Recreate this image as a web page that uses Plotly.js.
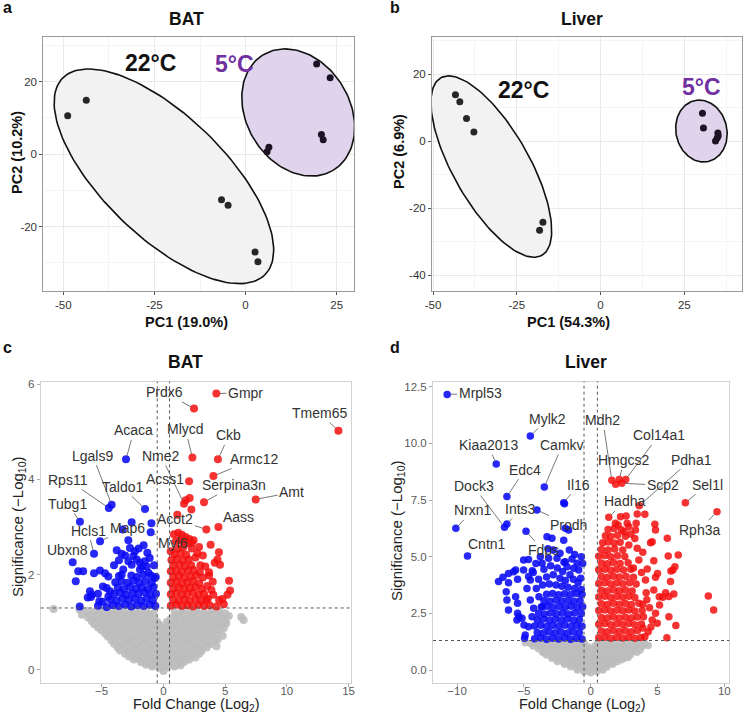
<!DOCTYPE html>
<html><head><meta charset="utf-8">
<script src="https://cdn.plot.ly/plotly-3.0.1.min.js"></script>
<style>html,body{margin:0;padding:0;background:#fff;}#chart{width:744px;height:714px;}</style>
</head><body><div id="chart"></div>
<script>
// ---------- PCA data ----------
const batPC1_22 = [-48.8,-43.7,-6.6,-4.8,2.6,3.4];
const batPC2_22 = [10.6,14.9,-12.6,-14.1,-27.0,-29.7];
const batPC1_5  = [19.5,23.2,20.8,21.3,6.4,5.9];
const batPC2_5  = [24.9,21.1,5.4,4.0,1.9,0.7];
const livPC1_22 = [-43.3,-42.0,-40.0,-37.8,-17.2,-18.2];
const livPC2_22 = [13.8,11.7,6.7,2.7,-24.2,-26.6];
const livPC1_5  = [30.4,30.7,35.0,35.1,34.8,34.3];
const livPC2_5  = [8.3,3.9,2.4,1.6,0.9,0.0];
// confidence ellipses: [centre x, centre y, semi-major, semi-minor, angle deg]
const batEll22 = [-22.4,-6.1,38.8,16.7,-44.3];
const batEll5  = [14.45,11.5,18.6,14.2,-59.1];
const livEll22 = [-32.6,-7.6,30.45,11.33,-60.3];
const livEll5  = [30.1,3.0,9.3,7.6,-77.5];
const groupNames = ['22°C','5°C'];

// ---------- Volcano data [log2 FC, -log10 p] ----------
const batNS = [
[-8.9,1.28],[-6.8,1.27],[-6.6,1.16],[-6.2,1.24],[-5.6,1.22],[-5.0,1.25],[-4.4,1.2],[-3.8,1.24],[-3.2,1.21],[-2.6,1.25],[-2.0,1.2],[-1.4,1.23],[-0.8,1.19],[0.9,1.2],[1.5,1.24],[2.1,1.21],[2.7,1.25],[3.3,1.2],[3.9,1.24],[4.5,1.22],[5.0,1.19],
[-5.9,1.16],[-5.3,1.17],[-4.7,1.15],[-4.1,1.17],[-3.5,1.16],[-2.9,1.15],[-2.3,1.17],[-1.7,1.15],[-1.1,1.16],[1.0,1.15],[1.6,1.17],[2.2,1.15],[2.8,1.17],[3.4,1.15],[4.0,1.17],[4.6,1.15],
[-6.1,1.1],[-5.5,1.07],[-4.9,1.12],[-4.3,1.06],[-3.7,1.1],[-3.1,1.07],[-2.5,1.11],[-1.9,1.06],[-1.3,1.1],[-0.7,1.05],[0.6,1.07],[1.2,1.1],[1.8,1.06],[2.4,1.11],[3.0,1.07],[3.6,1.1],[4.2,1.06],[4.8,1.1],[5.3,1.13],[6.3,1.11],[6.5,1.05],
[-5.8,1.02],[-5.2,1.03],[-4.6,1.01],[-4.0,1.03],[-3.4,1.02],[-2.8,1.01],[-2.2,1.03],[-1.6,1.01],[-1.0,1.02],[-0.5,1.0],[0.3,1.01],[0.9,1.02],[1.5,1.01],[2.1,1.03],[2.7,1.01],[3.3,1.03],[3.9,1.01],[4.5,1.02],[5.0,1.04],
[-5.6,0.96],[-5.0,0.98],[-4.4,0.94],[-3.8,0.97],[-3.2,0.93],[-2.6,0.98],[-2.0,0.95],[-1.4,0.97],[-0.8,0.93],[-0.3,0.95],[0.4,0.94],[1.0,0.97],[1.6,0.93],[2.2,0.97],[2.8,0.94],[3.4,0.98],[4.0,0.95],[4.6,0.93],[5.1,0.98],
[-5.3,0.89],[-4.7,0.88],[-4.1,0.9],[-3.5,0.88],[-2.9,0.9],[-2.3,0.88],[-1.7,0.9],[-1.1,0.88],[-0.5,0.89],[0.1,0.88],[0.7,0.9],[1.3,0.88],[1.9,0.9],[2.5,0.88],[3.1,0.9],[3.7,0.88],[4.3,0.9],[4.9,0.88],
[-5.0,0.83],[-4.4,0.8],[-3.8,0.84],[-3.2,0.81],[-2.6,0.85],[-2.0,0.8],[-1.4,0.83],[-0.8,0.8],[-0.2,0.84],[0.4,0.81],[1.0,0.84],[1.6,0.8],[2.2,0.84],[2.8,0.81],[3.4,0.83],[4.0,0.8],[4.6,0.84],[4.8,0.72],
[-4.7,0.76],[-4.1,0.74],[-3.5,0.76],[-2.9,0.74],[-2.3,0.76],[-1.7,0.74],[-1.1,0.76],[-0.5,0.74],[0.1,0.76],[0.7,0.74],[1.3,0.76],[1.9,0.74],[2.5,0.76],[3.1,0.74],[3.7,0.76],[4.2,0.75],
[-4.5,0.7],[-3.9,0.67],[-3.3,0.7],[-2.7,0.66],[-2.1,0.7],[-1.5,0.67],[-0.9,0.7],[-0.3,0.66],[0.3,0.7],[0.9,0.67],[1.5,0.7],[2.1,0.66],[2.7,0.7],[3.3,0.67],[3.9,0.7],[4.4,0.64],
[-4.2,0.62],[-3.6,0.6],[-3.0,0.62],[-2.4,0.6],[-1.8,0.62],[-1.2,0.6],[-0.6,0.62],[0.0,0.6],[0.6,0.62],[1.2,0.6],[1.8,0.62],[2.4,0.6],[3.0,0.62],[3.6,0.6],[4.1,0.61],
[-4.0,0.55],[-3.4,0.52],[-2.8,0.56],[-2.2,0.53],[-1.6,0.56],[-1.0,0.52],[-0.4,0.55],[0.2,0.52],[0.8,0.56],[1.4,0.53],[2.0,0.56],[2.6,0.52],[3.2,0.55],[3.8,0.54],[4.3,0.5],
[-3.7,0.47],[-3.1,0.46],[-2.5,0.48],[-1.9,0.46],[-1.3,0.48],[-0.7,0.46],[-0.1,0.48],[0.5,0.46],[1.1,0.48],[1.7,0.46],[2.3,0.48],[2.9,0.46],[3.5,0.47],
[-3.5,0.41],[-2.9,0.39],[-2.3,0.42],[-1.7,0.38],[-1.1,0.41],[-0.5,0.39],[0.1,0.42],[0.7,0.38],[1.3,0.41],[1.9,0.39],[2.5,0.42],[3.1,0.4],
[-3.1,0.34],[-2.5,0.33],[-1.9,0.35],[-1.3,0.33],[-0.7,0.35],[-0.1,0.33],[0.5,0.35],[1.1,0.33],[1.7,0.35],[2.3,0.33],[2.9,0.34],
[-2.8,0.28],[-2.2,0.26],[-1.6,0.29],[-1.0,0.25],[-0.4,0.28],[0.2,0.26],[0.8,0.29],[1.4,0.25],[2.0,0.28],[2.6,0.26],
[-2.4,0.22],[-1.9,0.21],[-1.3,0.22],[-0.7,0.21],[-0.1,0.22],[0.5,0.21],[1.1,0.22],[1.6,0.21],[2.1,0.22],
[-1.8,0.16],[-1.2,0.14],[-0.6,0.17],[0.0,0.13],[0.6,0.16],[1.2,0.14],[1.7,0.17],
[-1.4,0.11],[-0.9,0.1],[-0.3,0.11],[0.3,0.1],[0.9,0.11],[1.4,0.1],
[-0.9,0.07],[-0.3,0.04],[0.3,0.05],[0.9,0.07],[0.0,-0.02]
];
const batDown = [
[-7.35,2.26],[-5.62,2.44],[-5.13,2.70],[-6.76,3.11],[-4.42,3.40],[-4.19,3.47],[-1.49,3.38],[-3.03,4.42],[-1.03,2.89],[-0.97,3.08],[-2.57,3.10],[-3.3,2.95],
[-2.84,2.72],[-3.78,2.51],[-3.38,2.44],[-2.71,2.56],[-2.3,2.49],[-2.44,2.39],[-2.16,2.32],[-2.84,2.28],[-2.57,2.21],[-1.9,2.25],[-1.9,2.11],[-1.35,2.17],[-1.63,2.0],[-1.22,2.04],[-3.25,2.11],[-3.38,2.0],[-1.3,2.46],[-1.11,2.35],[-1.52,2.28],[-1.7,2.17],
[-6.9,2.07],[-6.5,2.07],[-7.1,1.86],[-5.62,2.03],[-5.14,2.09],[-4.73,2.03],[-4.46,1.96],[-5.95,1.65],[-5.81,1.58],[-6.13,1.52],[-6.78,1.33],[-5.87,1.53],[-5.19,1.44],[-4.92,1.43],[-4.6,1.72],[-4.33,1.65],[-4.46,1.54],
[-4.1,1.36],[-3.6,1.34],[-3.1,1.37],[-2.6,1.33],[-2.1,1.36],[-1.6,1.34],[-1.1,1.37],[-0.65,1.34],[-5.3,1.35],[-4.6,1.32],
[-4.3,1.48],[-3.8,1.46],[-3.3,1.5],[-2.8,1.47],[-2.3,1.49],[-1.8,1.45],[-1.35,1.5],[-0.85,1.47],
[-4.0,1.6],[-3.5,1.62],[-3.0,1.58],[-2.5,1.61],[-2.0,1.6],[-1.5,1.63],[-1.05,1.59],[-0.6,1.6],
[-3.7,1.73],[-3.2,1.7],[-2.7,1.74],[-2.2,1.71],[-1.75,1.73],[-1.25,1.7],[-0.8,1.74],
[-3.9,1.84],[-3.4,1.86],[-2.9,1.83],[-2.4,1.87],[-1.95,1.84],[-1.45,1.86],[-0.95,1.83],
[-3.6,1.97],[-2.6,1.98],[-2.15,1.95],[-1.0,1.98],[-0.7,1.93],
[-4.9,1.75],[-5.3,1.6],[-3.1,2.4],[-2.0,2.55],[-1.6,2.62],[-0.75,2.2],[-0.62,1.95],[-4.0,2.2],[-3.6,2.3]
];
const batUp = [
[2.48,5.49],[4.29,5.80],[14.18,5.02],[2.35,4.46],[4.42,4.42],[1.67,3.49],[4.05,4.07],[2.08,3.96],[3.29,3.52],[7.48,3.58],[4.46,3.0],[3.48,2.95],
[1.81,3.56],[2.13,3.61],[2.27,3.37],[1.13,3.26],[0.59,2.49],[0.85,2.85],[1.2,2.88],[1.5,2.84],[1.8,2.79],[2.1,2.75],[2.45,2.72],[1.0,2.7],[1.35,2.72],[1.65,2.69],[2.0,2.66],[2.3,2.67],[2.89,2.58],[3.83,2.63],[4.5,2.47],[4.38,2.32],[4.59,2.21],[4.16,2.25],[5.32,1.87],[5.4,1.67],[5.19,1.58],[4.78,1.49],[4.51,1.47],[3.89,1.68],[4.05,1.58],
[0.6,1.35],[1.05,1.37],[1.5,1.34],[1.95,1.36],[2.4,1.33],[2.85,1.37],[3.3,1.34],[3.75,1.36],[4.3,1.33],
[0.8,1.47],[1.25,1.45],[1.7,1.48],[2.15,1.46],[2.6,1.49],[3.05,1.45],[3.5,1.47],
[0.6,1.59],[1.05,1.61],[1.5,1.58],[1.95,1.6],[2.4,1.62],[2.85,1.58],[3.3,1.6],
[0.8,1.71],[1.25,1.73],[1.7,1.7],[2.15,1.72],[2.6,1.74],[3.1,1.7],[3.55,1.76],
[0.6,1.83],[1.05,1.85],[1.5,1.82],[1.95,1.84],[2.4,1.86],[2.9,1.82],
[0.8,1.95],[1.25,1.97],[1.7,1.94],[2.2,1.96],[2.65,1.98],[3.2,1.94],[3.7,1.98],
[0.6,2.07],[1.05,2.09],[1.5,2.06],[2.0,2.08],[2.45,2.1],[2.95,2.05],
[0.8,2.19],[1.3,2.21],[1.75,2.18],[2.25,2.2],[3.4,2.17],
[0.65,2.31],[1.1,2.33],[1.6,2.3],[2.05,2.32],[2.6,2.36],
[0.9,2.43],[1.4,2.45],[1.85,2.42],[3.2,2.4],
[1.15,2.55],[1.6,2.57],[2.3,2.55],
[3.0,2.2],[3.7,2.05],[4.0,1.85],[3.6,1.5],[4.9,1.38],[2.75,2.45]
];
const livNS = [
[-4.9,1.2],[-4.5,1.17],[-4.05,1.22],[-3.6,1.18],[-3.15,1.22],[-2.7,1.17],[-2.25,1.21],[-1.8,1.18],[-1.35,1.22],[-0.9,1.17],[-0.5,1.2],[0.5,1.18],[0.9,1.22],[1.35,1.17],[1.8,1.21],[2.25,1.18],[2.7,1.22],[3.15,1.17],[3.6,1.21],[4.05,1.17],[4.3,1.08],
[-4.3,1.06],[-3.85,1.05],[-3.4,1.07],[-2.95,1.05],[-2.5,1.07],[-2.05,1.05],[-1.6,1.07],[-1.15,1.05],[-0.7,1.07],[-0.25,1.04],[0.3,1.05],[0.7,1.07],[1.15,1.05],[1.6,1.07],[2.05,1.05],[2.5,1.07],[2.95,1.05],[3.4,1.07],[3.85,1.05],
[-3.9,0.94],[-3.45,0.9],[-3.0,0.94],[-2.55,0.9],[-2.1,0.93],[-1.65,0.9],[-1.2,0.94],[-0.75,0.9],[-0.3,0.93],[0.15,0.9],[0.6,0.94],[1.05,0.9],[1.5,0.93],[1.95,0.9],[2.4,0.94],[2.85,0.9],[3.3,0.93],[3.7,0.88],
[-3.6,0.79],[-3.2,0.8],[-2.75,0.78],[-2.3,0.8],[-1.85,0.78],[-1.4,0.8],[-0.95,0.78],[-0.5,0.8],[-0.05,0.78],[0.4,0.8],[0.85,0.78],[1.3,0.8],[1.75,0.78],[2.2,0.8],[2.65,0.78],[3.1,0.8],[3.45,0.78],
[-3.5,0.76],[-3.3,0.66],[-2.85,0.62],[-2.4,0.66],[-1.95,0.62],[-1.5,0.65],[-1.05,0.62],[-0.6,0.66],[-0.15,0.62],[0.3,0.65],[0.75,0.62],[1.2,0.66],[1.65,0.62],[2.1,0.65],[2.55,0.62],[2.95,0.66],
[-2.9,0.52],[-2.45,0.5],[-2.0,0.52],[-1.55,0.5],[-1.1,0.52],[-0.65,0.5],[-0.2,0.52],[0.25,0.5],[0.7,0.52],[1.15,0.5],[1.6,0.52],[2.05,0.5],[2.5,0.52],[2.8,0.55],
[-2.5,0.38],[-2.05,0.35],[-1.6,0.38],[-1.15,0.35],[-0.7,0.38],[-0.25,0.35],[0.2,0.38],[0.65,0.35],[1.1,0.38],[1.55,0.35],[2.0,0.38],[2.3,0.45],
[-1.95,0.25],[-1.5,0.23],[-1.05,0.25],[-0.6,0.23],[-0.15,0.25],[0.3,0.23],[0.75,0.25],[1.2,0.23],[1.65,0.25],
[-1.5,0.14],[-1.05,0.1],[-0.6,0.12],[-0.15,0.08],[0.3,0.11],[0.75,0.09],[1.2,0.13],
[-1.0,0.0],[-0.25,-0.02],[0.25,0.0],[0.9,0.0],
[-0.5,-0.08],[0.0,-0.12],[0.45,-0.07]
];
const livDown = [
[-10.74,12.16],[-4.52,10.32],[-7.07,9.09],[-3.47,8.07],[-6.27,7.65],[-2.02,7.38],[-1.96,7.33],[-6.45,6.3],[-10.09,6.25],[-6.27,6.44],[-4.02,7.06],[-4.84,6.12],[-9.22,5.03],
[-1.9,6.25],[-1.65,6.18],[-2.02,5.73],[-3.27,5.88],[-2.9,5.81],
[-5.02,4.85],[-4.65,4.88],[-3.77,5.0],[-3.64,4.71],[-3.15,4.93],[-2.52,4.93],[-1.9,4.78],[-1.77,4.56],[-1.02,4.71],[-1.27,4.49],[-0.9,4.41],
[-6.9,3.9],[-6.57,4.09],[-6.15,4.26],[-5.77,4.34],[-6.15,3.85],[-5.47,4.0],[-5.02,4.41],[-4.65,4.12],[-4.77,3.6],[-4.52,3.97],[-5.62,4.41],[-4.37,4.38],
[-6.27,3.09],[-6.32,3.45],[-6.15,2.65],[-5.47,2.94],[-5.62,3.23],[-5.47,2.5],[-5.14,2.28],[-5.52,2.21],[-5.37,2.35],[-4.99,1.99],[-4.65,1.91],[-4.9,1.54],[-4.95,1.4],[-4.52,3.09],[-4.27,2.72],[-4.39,2.35],[-4.07,3.6],[-3.87,3.23],[-3.62,2.79],
[-3.5,4.45],[-3.0,4.6],[-2.5,4.5],[-2.1,4.35],[-1.55,4.2],[-0.75,4.05],[-3.3,4.1],[-2.8,4.2],[-2.3,4.05],[-1.9,3.95],[-1.3,4.0],[-0.95,3.85],[-3.6,3.75],[-3.1,3.8],[-2.6,3.75],[-2.15,3.7],[-1.7,3.65],[-1.2,3.6],[-0.7,3.55],[-2.8,5.3],[-2.3,5.15],[-1.6,5.3],[-1.2,5.1],[-0.7,5.0],[-3.2,5.35],[-2.0,4.75],[-0.6,4.7],[-1.4,4.9],[-4.1,4.7],[-4.3,4.3],[-3.9,4.0],
[-4.2,1.38],[-3.75,1.41],[-3.3,1.36],[-2.85,1.4],[-2.4,1.37],[-1.95,1.41],[-1.5,1.36],[-1.05,1.4],[-0.65,1.37],
[-4.0,1.66],[-3.55,1.63],[-3.1,1.68],[-2.65,1.64],[-2.2,1.67],[-1.75,1.63],[-1.3,1.68],[-0.85,1.65],
[-4.2,1.94],[-3.75,1.97],[-3.3,1.92],[-2.85,1.96],[-2.4,1.93],[-1.95,1.97],[-1.5,1.92],[-1.05,1.96],[-0.65,1.93],
[-4.0,2.22],[-3.55,2.25],[-3.1,2.2],[-2.65,2.24],[-2.2,2.21],[-1.75,2.25],[-1.3,2.2],[-0.85,2.23],
[-3.9,2.5],[-3.45,2.47],[-3.0,2.52],[-2.55,2.48],[-2.1,2.51],[-1.65,2.47],[-1.2,2.52],[-0.7,2.49],
[-3.7,2.78],[-3.25,2.81],[-2.8,2.76],[-2.35,2.8],[-1.9,2.77],[-1.45,2.81],[-1.0,2.76],[-0.6,2.79],
[-3.5,3.06],[-3.05,3.03],[-2.6,3.08],[-2.15,3.04],[-1.7,3.07],[-1.25,3.03],[-0.8,3.06],
[-3.3,3.34],[-2.85,3.37],[-2.4,3.32],[-1.95,3.36],[-1.5,3.33],[-1.05,3.37],[-0.65,3.34]
];
const livUp = [
[1.58,8.37],[1.87,8.2],[2.13,8.41],[2.62,8.41],[2.32,8.24],[3.63,7.25],[7.08,7.38],[1.35,6.74],[9.45,6.98],
[2.23,6.76],[2.65,6.79],[3.48,6.88],[4.05,6.87],
[1.85,6.47],[2.05,6.4],[2.73,6.47],[2.85,6.32],[3.4,6.47],[3.35,6.18],[4.8,6.43],[4.85,6.18],
[5.73,5.81],[4.6,5.66],[4.48,5.62],[3.48,5.37],[2.85,5.51],
[6.55,5.07],[5.8,5.03],[4.72,4.82],[4.23,4.46],[3.6,4.85],[4.1,3.97],[4.85,4.09],[5.0,4.26],[6.3,4.56],[6.15,4.41],[6.0,4.37],[5.97,3.9],
[4.72,3.53],[5.6,3.41],[5.85,3.24],[5.4,3.21],[6.22,3.35],[5.13,3.23],[5.15,2.87],[8.8,3.26],[9.2,2.65],[6.37,1.96],[5.7,1.42],[5.85,2.35],[4.85,2.5],[4.6,2.21],[4.98,2.06],[4.3,1.69],[4.05,1.47],[4.15,3.41],[3.9,2.9],[4.4,2.75],[3.95,2.35],[4.5,1.9],[3.9,1.85],[4.2,3.1],[3.8,4.3],[3.3,5.8],[3.0,6.0],[2.5,6.1],[3.9,5.2],[3.2,4.5],
[0.6,1.42],[1.05,1.45],[1.5,1.4],[1.95,1.44],[2.4,1.41],[2.85,1.45],[3.3,1.4],[3.75,1.43],
[0.8,1.72],[1.25,1.69],[1.7,1.74],[2.15,1.7],[2.6,1.73],[3.05,1.69],[3.5,1.74],
[0.6,2.02],[1.05,2.05],[1.5,2.0],[1.95,2.04],[2.4,2.01],[2.85,2.05],[3.3,2.0],[3.8,2.03],
[0.8,2.32],[1.25,2.29],[1.7,2.34],[2.15,2.3],[2.6,2.33],[3.05,2.29],[3.5,2.34],
[0.6,2.62],[1.05,2.65],[1.5,2.6],[1.95,2.64],[2.4,2.61],[2.85,2.65],[3.3,2.6],[3.85,2.63],
[0.8,2.92],[1.25,2.89],[1.7,2.94],[2.15,2.9],[2.6,2.93],[3.05,2.89],[3.6,2.94],
[0.6,3.22],[1.05,3.25],[1.5,3.2],[1.95,3.24],[2.4,3.21],[2.85,3.25],[3.3,3.2],
[0.8,3.52],[1.25,3.49],[1.7,3.54],[2.15,3.5],[2.6,3.53],[3.1,3.49],
[0.6,3.82],[1.05,3.85],[1.5,3.8],[1.95,3.84],[2.4,3.81],[2.9,3.85],[3.4,3.8],
[0.8,4.12],[1.25,4.09],[1.7,4.14],[2.15,4.1],[2.65,4.13],[3.2,4.09],
[0.6,4.42],[1.05,4.45],[1.5,4.4],[1.95,4.44],[2.45,4.41],[3.0,4.45],
[0.8,4.72],[1.25,4.69],[1.7,4.74],[2.2,4.7],[2.8,4.73],
[0.6,5.02],[1.05,5.05],[1.5,5.0],[2.0,5.04],[2.55,5.01],
[0.8,5.32],[1.3,5.29],[1.8,5.34],[2.4,5.3],
[0.9,5.62],[1.3,5.65],[1.75,5.6],[2.2,5.64],
[1.1,5.92],[1.5,5.89],[2.0,5.94],[2.6,5.9],
[1.3,6.2],[1.75,6.24],[2.3,6.19]
];
// thresholds
const fcCut = 0.5;
const pCut = 1.301;

// labelled genes
const batLabels = ['Prdx6','Gmpr','Tmem65','Acaca','Mlycd','Ckb','Lgals9','Nme2','Armc12','Rps11','Taldo1','Acss1','Serpina3n','Amt','Tubg1','Aass','Acot2','Hcls1','Map6','Myl6','Ubxn8'];
const batLabX = [2.48,4.29,14.18,-3.03,2.35,4.42,-4.19,1.67,4.05,-4.42,-1.49,2.08,3.29,7.48,-6.76,4.46,3.48,-5.62,-5.13,-1.03,-7.35];
const batLabY = [5.49,5.80,5.02,4.42,4.46,4.42,3.47,3.49,4.07,3.40,3.38,3.96,3.52,3.58,3.11,3.0,2.95,2.44,2.70,2.89,2.26];
const livLabels = ['Mrpl53','Mylk2','Kiaa2013','Camkv','Mdh2','Col14a1','Hmgcs2','Scp2','Pdha1','Edc4','Il16','Sel1l','Hadha','Dock3','Nrxn1','Ints3','Prodh','Fdps','Cntn1','Rph3a'];
const livLabX = [-10.74,-4.52,-7.07,-3.47,1.58,2.62,2.13,2.32,3.63,-6.27,-2.02,7.08,1.35,-6.45,-10.09,-6.27,-4.02,-4.84,-9.22,9.45];
const livLabY = [12.16,10.32,9.09,8.07,8.37,8.41,8.41,8.24,7.25,7.65,7.38,7.38,6.74,6.3,6.25,6.44,7.06,6.12,5.03,6.98];
// label placement offsets in pixels (layout, not data)
const batLabOff = [[-30,-16],[29,-1],[-19,-18],[8,-29],[-7,-28],[11,-24],[-19,-49],[-23,-48],[41,-17],[-41,-28],[-23,-22],[-24,-2],[30,-17],[36,-7],[-12,-18],[20,-10],[-31,-10],[-6,-23],[27,-13],[22,11],[-5,-12]];
const livLabOff = [[33,-1],[17,-17],[-8,-19],[18,-42],[-9,-60],[33,-44],[5,-19],[41,2],[52,-46],[18,-27],[15,-18],[22,-18],[16,-16],[-31,-41],[17,-18],[14,-15],[32,15],[17,19],[20,-12],[-18,18]];

// ---------- build ----------
const FONT = 'Liberation Sans, Arial, sans-serif';
const W = 744, H = 714;
function ellipse(p){
  const xs=[], ys=[], th=p[4]*Math.PI/180;
  for(let i=0;i<=144;i++){
    const t=2*Math.PI*i/144, u=p[2]*Math.cos(t), v=p[3]*Math.sin(t);
    xs.push(p[0]+u*Math.cos(th)-v*Math.sin(th));
    ys.push(p[1]+u*Math.sin(th)+v*Math.cos(th));
  }
  return [xs,ys];
}
const traces = [];
function addPCA(ax, ay, e22, e5, x22, y22, x5, y5){
  const a = ellipse(e22), b = ellipse(e5);
  traces.push({x:a[0],y:a[1],xaxis:ax,yaxis:ay,type:'scatter',mode:'lines',fill:'toself',fillcolor:'rgba(242,242,242,1)',line:{color:'#111',width:1.6},name:groupNames[0],showlegend:false,hoverinfo:'skip'});
  traces.push({x:b[0],y:b[1],xaxis:ax,yaxis:ay,type:'scatter',mode:'lines',fill:'toself',fillcolor:'rgba(223,212,235,1)',line:{color:'#111',width:1.6},name:groupNames[1],showlegend:false,hoverinfo:'skip'});
  traces.push({x:x22,y:y22,xaxis:ax,yaxis:ay,type:'scatter',mode:'markers',marker:{size:7,color:'#262626'},showlegend:false});
  traces.push({x:x5,y:y5,xaxis:ax,yaxis:ay,type:'scatter',mode:'markers',marker:{size:7,color:'#1c1424'},showlegend:false});
}
addPCA('x','y',batEll22,batEll5,batPC1_22,batPC2_22,batPC1_5,batPC2_5);
addPCA('x2','y2',livEll22,livEll5,livPC1_22,livPC2_22,livPC1_5,livPC2_5);

function addVolcano(ax, ay, ns, dn, up, size){
  traces.push({x:ns.map(p=>p[0]),y:ns.map(p=>p[1]),xaxis:ax,yaxis:ay,type:'scatter',mode:'markers',marker:{size:size,color:'#bdbdbd',opacity:0.9},showlegend:false});
  traces.push({x:dn.map(p=>p[0]),y:dn.map(p=>p[1]),xaxis:ax,yaxis:ay,type:'scatter',mode:'markers',marker:{size:size,color:'rgb(10,10,245)',opacity:0.88},showlegend:false});
  traces.push({x:up.map(p=>p[0]),y:up.map(p=>p[1]),xaxis:ax,yaxis:ay,type:'scatter',mode:'markers',marker:{size:size,color:'rgb(245,15,15)',opacity:0.85},showlegend:false});
}
addVolcano('x3','y3',batNS,batDown,batUp,8);
addVolcano('x4','y4',livNS,livDown,livUp,7.5);

function dom(a,b,tot){return [a/tot,b/tot];}
function ydom(top,bot){return [1-bot/H,1-top/H];}
function pcaAxis(d, range, vals, minor, anchor){
  return {domain:d, range:range, anchor:anchor, tickmode:'array', tickvals:vals, ticktext:vals.map(v=>String(v)),
    showgrid:true, gridcolor:'#e9e9e9', gridwidth:1,
    minor:{tickmode:'array', tickvals:minor, showgrid:true, gridcolor:'#f4f4f4', gridwidth:1, ticks:''},
    zeroline:false, showline:true, mirror:true, linecolor:'#9a9a9a', linewidth:1,
    ticks:'outside', ticklen:3, tickcolor:'#555', tickfont:{family:FONT,size:11.5,color:'#333'}, fixedrange:true};
}
function volAxis(d, range, vals, txt, anchor, standoff){
  return {domain:d, range:range, anchor:anchor, tickmode:'array', tickvals:vals, ticktext:txt,
    showgrid:false, zeroline:false, showline:true, mirror:true, linecolor:'#d2d2d2', linewidth:1,
    ticks:'outside', ticklen:3, tickcolor:'#aaa', ticklabelstandoff:standoff||0,
    tickfont:{family:FONT,size:11.5,color:'#5a5a5a'}, fixedrange:true};
}
const topRowY = ydom(37,290.7), botRowYc = ydom(381.7,683.3), botRowYd = ydom(381.7,682.7);
const layout = {
  width:W, height:H, margin:{l:0,r:0,t:0,b:0}, paper_bgcolor:'#fff', plot_bgcolor:'#fff',
  showlegend:false, font:{family:FONT},
  xaxis:  pcaAxis(dom(43.3,354,W), [-55.49,29.75], [-50,-25,0,25], [-37.5,-12.5,12.5], 'y'),
  yaxis:  pcaAxis(topRowY, [-37.66,32.33], [-20,0,20], [-30,-10,10,30], 'x'),
  xaxis2: pcaAxis(dom(432,742,W), [-50.3,42.2], [-50,-25,0,25], [-37.5,-12.5,12.5,37.5], 'y2'),
  yaxis2: pcaAxis(topRowY, [-44.6,31.03], [-40,-20,0,20], [-30,-10,10,30], 'x2'),
  xaxis3: volAxis(dom(40.7,351,W), [-9.94,15.2], [-5,0,5,10,15], ['\u22125','0','5','10','15'], 'y3', -6),
  yaxis3: volAxis(botRowYc, [-0.28,6.05], [0,2,4,6], ['0','2','4','6'], 'x3'),
  xaxis4: volAxis(dom(433,729.3,W), [-11.8,10.37], [-10,-5,0,5,10], ['\u221210','\u22125','0','5','10'], 'y4', -6),
  yaxis4: volAxis(botRowYd, [-0.56,12.72], [0,2.5,5,7.5,10,12.5], ['0.0','2.5','5.0','7.5','10.0','12.5'], 'x4'),
  shapes:[], annotations:[]
};
// threshold lines
[['x3','y3'],['x4','y4']].forEach(([xa,ya])=>{
  const ln={color:'#555',width:1,dash:'3px,3px'};
  layout.shapes.push({type:'line',xref:xa,yref:ya+' domain',x0:-fcCut,x1:-fcCut,y0:0,y1:1,line:ln,layer:'above'});
  layout.shapes.push({type:'line',xref:xa,yref:ya+' domain',x0:fcCut,x1:fcCut,y0:0,y1:1,line:ln,layer:'above'});
  layout.shapes.push({type:'line',xref:xa+' domain',yref:ya,x0:0,x1:1,y0:pCut,y1:pCut,line:ln,layer:'above'});
});
function txt(text,px,py,size,opts){
  return Object.assign({xref:'paper',yref:'paper',x:px/W,y:1-py/H,text:text,showarrow:false,xanchor:'center',yanchor:'middle',
    font:{family:FONT,size:size,color:'#111'}},opts||{});
}
const A = layout.annotations;
// panel letters and titles
A.push(txt('<b>a</b>',1,8,16,{xanchor:'left'}));
A.push(txt('<b>b</b>',388,8,16,{xanchor:'left'}));
A.push(txt('<b>c</b>',1,347,16,{xanchor:'left'}));
A.push(txt('<b>d</b>',388,347,16,{xanchor:'left'}));
A.push(txt('<b>BAT</b>',186.7,18.5,17.5));
A.push(txt('<b>Liver</b>',582,18.5,17.5));
A.push(txt('<b>BAT</b>',185,362,17.5));
A.push(txt('<b>Liver</b>',586.3,362,17.5));
// axis titles
A.push(txt('<b>PC1 (19.0%)</b>',186.7,321.7,14.5));
A.push(txt('<b>PC1 (54.3%)</b>',568.7,321.7,14.5));
A.push(txt('<b>PC2 (10.2%)</b>',16.5,152.5,14.5,{textangle:-90}));
A.push(txt('<b>PC2 (6.9%)</b>',399,152,14.5,{textangle:-90}));
A.push(txt('Fold Change (Log<sub>2</sub>)',196.7,705,14.5,{yanchor:'middle',font:{family:FONT,size:14.5,color:'#222'}}));
A.push(txt('Fold Change (Log<sub>2</sub>)',582,705,14.5,{yanchor:'middle',font:{family:FONT,size:14.5,color:'#222'}}));
A.push(txt('Significance (\u2212Log<sub>10</sub>)',18,527,15,{textangle:-90,font:{family:FONT,size:15,color:'#222'}}));
A.push(txt('Significance (\u2212Log<sub>10</sub>)',397,531,15,{textangle:-90,font:{family:FONT,size:15,color:'#222'}}));
// group labels in PCA panels
A.push({xref:'x',yref:'y',x:-26.2,y:25.1,text:'<b>'+groupNames[0]+'</b>',showarrow:false,font:{family:FONT,size:23,color:'#111'}});
A.push({xref:'x',yref:'y',x:-2.9,y:24.8,text:'<b>'+groupNames[1]+'</b>',showarrow:false,font:{family:FONT,size:23,color:'#7030a0'}});
A.push({xref:'x2',yref:'y2',x:-22.9,y:15.2,text:'<b>'+groupNames[0]+'</b>',showarrow:false,font:{family:FONT,size:23,color:'#111'}});
A.push({xref:'x2',yref:'y2',x:30.1,y:16.0,text:'<b>'+groupNames[1]+'</b>',showarrow:false,font:{family:FONT,size:23,color:'#7030a0'}});
// gene labels
function geneLabels(xa,ya,names,xs,ys,offs){
  names.forEach((n,i)=>{
    A.push({xref:xa,yref:ya,x:xs[i],y:ys[i],text:n,showarrow:true,arrowhead:0,arrowwidth:0.8,arrowcolor:'#555',
      ax:offs[i][0],ay:offs[i][1],standoff:3.5,font:{family:FONT,size:14,color:'#333'}});
  });
}
geneLabels('x3','y3',batLabels,batLabX,batLabY,batLabOff);
geneLabels('x4','y4',livLabels,livLabX,livLabY,livLabOff);

Plotly.newPlot('chart',traces,layout,{staticPlot:true,displayModeBar:false});
</script>
</body></html>
